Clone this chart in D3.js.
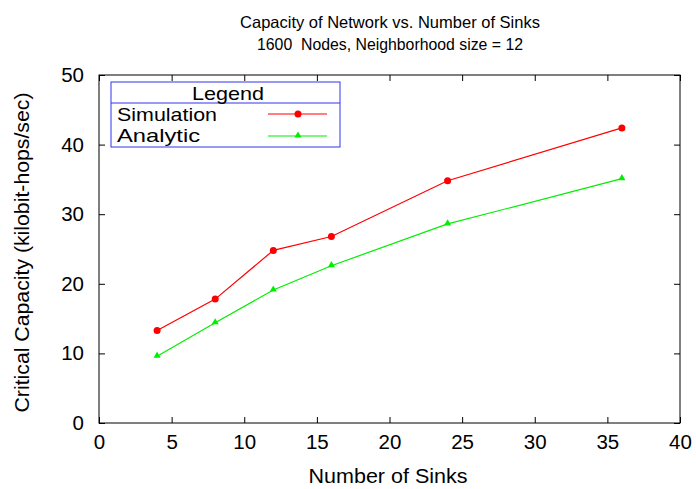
<!DOCTYPE html>
<html><head><meta charset="utf-8">
<script src="https://cdn.jsdelivr.net/npm/d3@7"></script>
<style>body{margin:0;background:#fff}svg{display:block}text{font-family:"Liberation Sans",Arial,sans-serif;fill:#000;white-space:pre}</style>
</head><body><svg id="c" width="696" height="489"></svg>
<script>
const sinks = [4, 8, 12, 16, 24, 36];
const simulation = [13.3, 17.8, 24.8, 26.8, 34.8, 42.4];
const analytic = [9.6, 14.4, 19.1, 22.6, 28.6, 35.1];
const xTicks = [0, 5, 10, 15, 20, 25, 30, 35, 40];
const yTicks = [0, 10, 20, 30, 40, 50];
const titleLines = ["Capacity of Network vs. Number of Sinks", "1600  Nodes, Neighborhood size = 12"];
const seriesNames = ["Simulation", "Analytic"];

const svg = d3.select("#c");
const L = 99, R = 680, T = 75, B = 423;
const x = d3.scaleLinear().domain([0, 40]).range([L, R]);
const y = d3.scaleLinear().domain([0, 50]).range([B, T]);

svg.append("rect").attr("x", L).attr("y", T).attr("width", R - L).attr("height", B - T)
  .attr("fill", "none").attr("stroke", "#000").attr("stroke-width", 1);

const fsTick = 20.5, fsTitle = 16.5, fsLab = 21, fsLeg = 19;
const gx = svg.append("g").attr("transform", `translate(0,${B})`)
  .call(d3.axisBottom(x).tickValues(xTicks).tickSize(-6).tickPadding(11).tickFormat(d3.format("d")));
const gxt = svg.append("g").attr("transform", `translate(0,${T})`)
  .call(d3.axisTop(x).tickValues(xTicks).tickSize(-6).tickFormat(""));
const gy = svg.append("g").attr("transform", `translate(${L},0)`)
  .call(d3.axisLeft(y).tickValues(yTicks).tickSize(-6).tickPadding(15).tickFormat(d3.format("d")));
const gyr = svg.append("g").attr("transform", `translate(${R},0)`)
  .call(d3.axisRight(y).tickValues(yTicks).tickSize(-6).tickFormat(""));
[gx, gxt, gy, gyr].forEach(g => {
  g.select(".domain").remove();
  g.selectAll("line").attr("stroke", "#000");
  g.selectAll("text").attr("font-size", fsTick).attr("font-family", "Liberation Sans, Arial, sans-serif").attr("fill", "#000");
});

svg.append("text").attr("x", 390).attr("y", 28).attr("text-anchor", "middle").attr("font-size", fsTitle).text(titleLines[0]);
svg.append("text").attr("x", 390).attr("y", 50).attr("text-anchor", "middle").attr("font-size", fsTitle)
  .attr("textLength", 266).attr("lengthAdjust", "spacingAndGlyphs").text(titleLines[1]);
svg.append("text").attr("x", 388).attr("y", 483).attr("text-anchor", "middle").attr("font-size", fsLab)
  .attr("textLength", 159).attr("lengthAdjust", "spacingAndGlyphs").text("Number of Sinks");
svg.append("text").attr("transform", "translate(29,252.5) rotate(-90)").attr("text-anchor", "middle").attr("font-size", 19.5)
  .attr("textLength", 320).attr("lengthAdjust", "spacingAndGlyphs").text("Critical Capacity (kilobit-hops/sec)");

const line = d3.line().x(d => x(d[0])).y(d => y(d[1]));
const simData = sinks.map((s, i) => [s, simulation[i]]);
const anaData = sinks.map((s, i) => [s, analytic[i]]);
const red = "#ff0000", green = "#00ee00";
svg.append("path").datum(simData).attr("d", line).attr("fill", "none").attr("stroke", red).attr("stroke-width", 1.2);
svg.append("path").datum(anaData).attr("d", line).attr("fill", "none").attr("stroke", green).attr("stroke-width", 1.2);
svg.selectAll(".sp").data(simData).enter().append("circle")
  .attr("cx", d => x(d[0])).attr("cy", d => y(d[1])).attr("r", 3.5).attr("fill", red);
const tri = d3.symbol().type(d3.symbolTriangle).size(22);
svg.selectAll(".ap").data(anaData).enter().append("path").attr("d", tri)
  .attr("transform", d => `translate(${x(d[0])},${y(d[1]) - 0.5})`).attr("fill", green);

const lg = svg.append("g");
lg.append("rect").attr("x", 111).attr("y", 82).attr("width", 229).attr("height", 65)
  .attr("fill", "#fff").attr("stroke", "#3333ee").attr("stroke-width", 1);
lg.append("line").attr("x1", 111).attr("x2", 340).attr("y1", 103).attr("y2", 103).attr("stroke", "#3333ee");
lg.append("text").attr("x", 228).attr("y", 100).attr("text-anchor", "middle").attr("font-size", fsLeg)
  .attr("textLength", 72).attr("lengthAdjust", "spacingAndGlyphs").text("Legend");
lg.append("text").attr("x", 117).attr("y", 121).attr("font-size", fsLeg)
  .attr("textLength", 100).attr("lengthAdjust", "spacingAndGlyphs").text(seriesNames[0]);
lg.append("text").attr("x", 117).attr("y", 142).attr("font-size", fsLeg)
  .attr("textLength", 83).attr("lengthAdjust", "spacingAndGlyphs").text(seriesNames[1]);
lg.append("line").attr("x1", 268).attr("x2", 327).attr("y1", 114).attr("y2", 114).attr("stroke", red).attr("stroke-width", 1.2);
lg.append("circle").attr("cx", 298).attr("cy", 114).attr("r", 3.5).attr("fill", red);
lg.append("line").attr("x1", 268).attr("x2", 327).attr("y1", 136).attr("y2", 136).attr("stroke", green).attr("stroke-width", 1.2);
lg.append("path").attr("d", tri).attr("transform", "translate(298,135.5)").attr("fill", green);
</script></body></html>
